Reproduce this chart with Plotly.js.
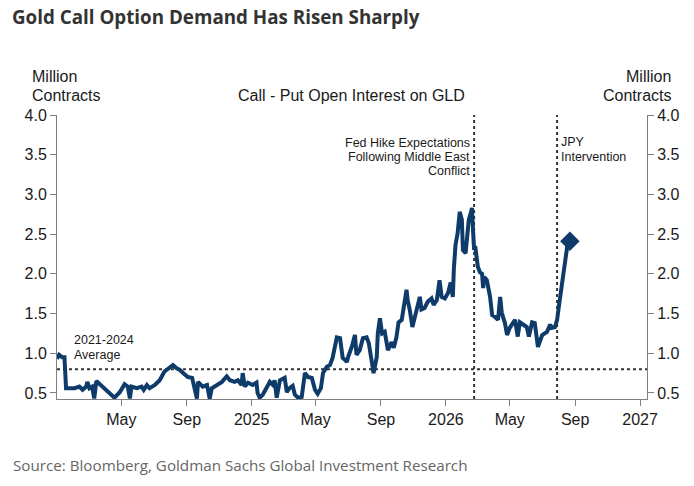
<!DOCTYPE html>
<html>
<head>
<meta charset="utf-8">
<script src="https://cdn.plot.ly/plotly-3.0.1.min.js"></script>
<style>
html,body{margin:0;padding:0;background:#fff;}
#chart{width:694px;height:486px;}
</style>
</head>
<body>
<div id="chart"></div>
<script>
// ---- Data ----
const dates = [
 "2024-01-01","2024-01-05","2024-01-11","2024-01-15","2024-01-18","2024-02-03","2024-02-12","2024-02-18","2024-02-25","2024-02-27",
 "2024-03-02","2024-03-07","2024-03-11","2024-03-15","2024-03-20","2024-03-30","2024-04-09","2024-04-18","2024-04-28","2024-05-07",
 "2024-05-13","2024-05-17","2024-05-20","2024-05-30","2024-06-08","2024-06-12","2024-06-18","2024-06-23","2024-07-03","2024-07-12",
 "2024-07-21","2024-07-31","2024-08-06","2024-08-13","2024-08-19","2024-08-25","2024-09-03","2024-09-11","2024-09-16","2024-09-20",
 "2024-09-22","2024-10-01","2024-10-09","2024-10-14","2024-10-18","2024-10-27","2024-11-06","2024-11-15","2024-11-21","2024-11-30",
 "2024-12-06","2024-12-13","2024-12-15","2024-12-19","2024-12-25",
 "2025-01-03","2025-01-10","2025-01-12","2025-01-16","2025-01-22","2025-01-29","2025-02-04","2025-02-10","2025-02-13","2025-02-17",
 "2025-02-23","2025-03-04","2025-03-08","2025-03-13","2025-03-19","2025-03-23","2025-03-29","2025-04-05","2025-04-11","2025-04-17",
 "2025-04-24","2025-04-30","2025-05-05","2025-05-11","2025-05-15","2025-05-22","2025-05-28","2025-06-02","2025-06-06","2025-06-10",
 "2025-06-16","2025-06-21","2025-06-25","2025-06-29","2025-07-01","2025-07-08","2025-07-14","2025-07-17","2025-07-23","2025-07-29",
 "2025-08-05","2025-08-09","2025-08-15","2025-08-18","2025-08-24","2025-08-26","2025-08-30","2025-09-03","2025-09-08","2025-09-14",
 "2025-09-21","2025-09-25","2025-09-30","2025-10-04","2025-10-10","2025-10-13","2025-10-19","2025-10-21","2025-10-25","2025-10-30",
 "2025-11-07","2025-11-13","2025-11-16","2025-11-22","2025-11-28","2025-12-05","2025-12-09","2025-12-15","2025-12-20","2025-12-24",
 "2025-12-30",
 "2026-01-05","2026-01-10","2026-01-14","2026-01-16","2026-01-19","2026-01-23","2026-01-27","2026-01-31","2026-02-02","2026-02-07",
 "2026-02-11","2026-02-13","2026-02-17","2026-02-19","2026-02-21","2026-02-23","2026-02-25","2026-02-28","2026-03-02","2026-03-06",
 "2026-03-10","2026-03-12","2026-03-14","2026-03-19","2026-03-25","2026-03-29","2026-04-03","2026-04-09","2026-04-13","2026-04-16",
 "2026-04-22","2026-04-26","2026-05-01","2026-05-11","2026-05-16","2026-05-20","2026-05-26","2026-06-02","2026-06-06","2026-06-12",
 "2026-06-17","2026-06-23","2026-07-01","2026-07-10","2026-07-16","2026-07-19","2026-07-25","2026-07-29","2026-08-03","2026-08-09",
 "2026-08-16","2026-08-18","2026-08-22"
];
const callPutOI = [
 0.93,0.98,0.95,0.95,0.56,0.56,0.58,0.54,0.58,0.64,
 0.56,0.58,0.43,0.65,0.62,0.56,0.51,0.44,0.51,0.61,
 0.58,0.43,0.58,0.56,0.58,0.54,0.60,0.56,0.60,0.66,
 0.77,0.83,0.85,0.81,0.79,0.75,0.70,0.69,0.51,0.43,
 0.64,0.58,0.60,0.43,0.56,0.60,0.64,0.71,0.66,0.64,
 0.66,0.60,0.75,0.58,0.63,
 0.60,0.63,0.50,0.44,0.48,0.56,0.64,0.60,0.66,0.44,
 0.66,0.69,0.51,0.56,0.59,0.48,0.44,0.45,0.75,0.70,
 0.69,0.54,0.49,0.56,0.75,0.83,0.85,0.94,1.10,1.20,
 1.19,0.94,0.92,0.89,0.95,1.08,1.23,0.98,1.04,1.19,
 1.20,1.13,0.88,0.75,0.95,1.25,1.44,1.25,1.27,1.04,
 1.14,1.07,1.20,1.39,1.42,1.55,1.80,1.67,1.55,1.33,
 1.55,1.71,1.55,1.57,1.65,1.69,1.61,1.67,1.92,1.71,
 1.69,
 1.76,1.89,1.71,2.07,2.36,2.51,2.78,2.68,2.30,2.26,
 2.55,2.68,2.77,2.83,2.55,2.30,2.35,2.20,2.09,2.02,
 2.00,1.82,1.96,1.92,1.71,1.48,1.46,1.42,1.71,1.51,
 1.38,1.23,1.32,1.42,1.21,1.39,1.36,1.33,1.21,1.39,
 1.38,1.08,1.23,1.27,1.36,1.32,1.33,1.42,1.67,1.96,
 2.26,2.39,2.41
];
const avg2021_2024 = 0.8;
const eventDates = ["2026-02-23", "2026-07-29"];
const eventLabels = [
  ["Fed Hike Expectations", "Following Middle East", "Conflict"],
  ["JPY", "Intervention"]
];
const tickDates = ["2024-05-01","2024-09-01","2025-01-01","2025-05-01","2025-09-01","2026-01-01","2026-05-01","2026-09-01","2027-01-01"];
const tickLabels = ["May","Sep","2025","May","Sep","2026","May","Sep","2027"];
const yTicks = [0.5,1.0,1.5,2.0,2.5,3.0,3.5,4.0];

// ---- Styling ----
const navy = "#0e3b69";
const axisGrey = "#7f7f7f";
const txt = "#1a1a1a";
const F = "Liberation Sans, Arial, sans-serif";

// plot area in pixels: x 57..647, y 115..399
const L = 57, R = 647, T = 115, B = 399, W = 694, H = 486;
const px = x => (x - L) / (R - L);
const py = y => (B - y) / (B - T);

const lastIdx = dates.length - 1;

const traces = [
  {
    x: dates, y: callPutOI, type: "scatter", mode: "lines",
    line: {color: navy, width: 4, shape: "linear"},
    hoverinfo: "skip", showlegend: false
  },
  {
    x: [dates[lastIdx]], y: [callPutOI[lastIdx]], type: "scatter", mode: "markers",
    marker: {symbol: "diamond", size: 15, color: navy},
    hoverinfo: "skip", showlegend: false
  },
  {
    x: [dates[0]], y: [callPutOI[0]], yaxis: "y2", type: "scatter", mode: "lines",
    line: {width: 0}, hoverinfo: "skip", showlegend: false
  }
];

const annText = (text, x, y, xanchor, size, opts) => Object.assign({
  text: text, xref: "paper", yref: "paper", x: px(x), y: py(y),
  xanchor: xanchor, yanchor: "middle", showarrow: false,
  font: {family: F, size: size, color: txt}
}, opts || {});

const annotations = [
  annText("<b>Gold Call Option Demand Has Risen Sharply</b>", 10, 17, "left", 18.8,
    {font: {family: "Open Sans, sans-serif", size: 18.8, color: "#333333"}}),
  annText("Source: Bloomberg, Goldman Sachs Global Investment Research", 11, 465, "left", 15,
    {font: {family: "Open Sans, sans-serif", size: 15.2, color: "#666666"}}),
  annText("Million", 30, 76, "left", 16),
  annText("Contracts", 30, 95, "left", 16),
  annText("Million", 673, 76, "right", 16),
  annText("Contracts", 673, 95, "right", 16),
  annText("Call - Put Open Interest on GLD", 351, 95, "center", 16),
  annText(eventLabels[0][0], 472, 142.5, "right", 12.5),
  annText(eventLabels[0][1], 472, 156.5, "right", 12.5),
  annText(eventLabels[0][2], 472, 170.5, "right", 12.5),
  annText(eventLabels[1][0], 559, 142, "left", 12.5),
  annText(eventLabels[1][1], 559, 157, "left", 12.5),
  annText("2021-2024", 72, 340, "left", 12.5),
  annText("Average", 72, 354.5, "left", 12.5)
];

const shapes = [
  {type: "line", xref: "paper", yref: "y", x0: 0, x1: 1, y0: avg2021_2024, y1: avg2021_2024,
   line: {color: "#333333", width: 2, dash: "dot"}, layer: "below"},
  {type: "line", xref: "x", yref: "paper", x0: eventDates[0], x1: eventDates[0], y0: 0, y1: 1,
   line: {color: "#333333", width: 2, dash: "dot"}, layer: "below"},
  {type: "line", xref: "x", yref: "paper", x0: eventDates[1], x1: eventDates[1], y0: 0, y1: 1,
   line: {color: "#333333", width: 2, dash: "dot"}, layer: "below"}
];

const yCommon = {
  range: [0.424, 4.0], tickvals: yTicks, tickformat: ".1f",
  showgrid: false, zeroline: false, showline: true, linecolor: axisGrey, linewidth: 1,
  ticks: "outside", ticklen: 6, tickcolor: axisGrey, tickwidth: 1,
  tickfont: {family: F, size: 16, color: txt}, fixedrange: true
};

const layout = {
  width: W, height: H,
  margin: {l: L, r: W - R, t: T, b: H - B, pad: 0},
  paper_bgcolor: "#ffffff", plot_bgcolor: "#ffffff",
  showlegend: false,
  xaxis: {
    type: "date", range: ["2024-01-01", "2027-01-14"],
    tickvals: tickDates, ticktext: tickLabels,
    showgrid: false, zeroline: false, showline: true, linecolor: axisGrey, linewidth: 1,
    ticks: "outside", ticklen: 6, tickcolor: axisGrey, tickwidth: 1,
    tickfont: {family: F, size: 16, color: txt}, fixedrange: true
  },
  yaxis: Object.assign({}, yCommon, {side: "left"}),
  yaxis2: Object.assign({}, yCommon, {side: "right", overlaying: "y"}),
  shapes: shapes,
  annotations: annotations
};

Plotly.newPlot("chart", traces, layout, {staticPlot: true, displayModeBar: false});
</script>
</body>
</html>
